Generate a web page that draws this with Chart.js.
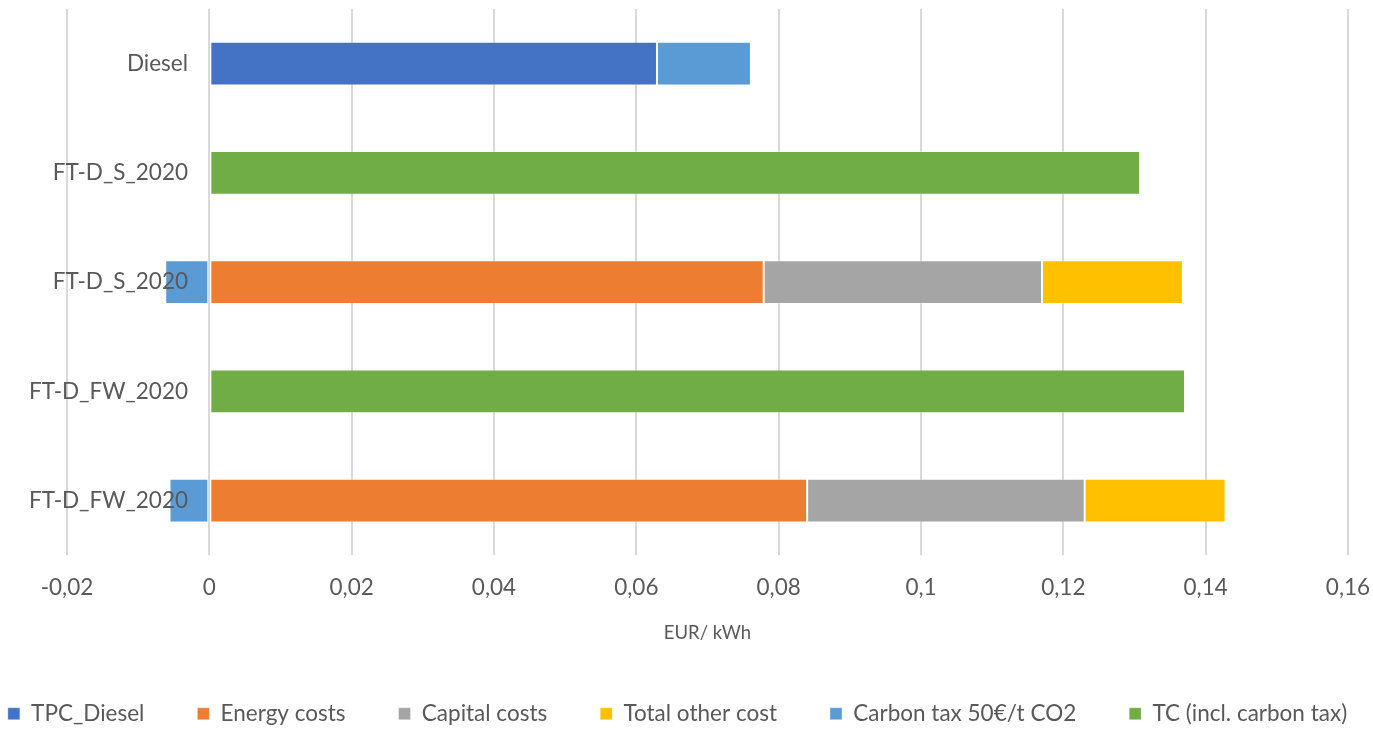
<!DOCTYPE html>
<html>
<head>
<meta charset="utf-8">
<script src="https://cdn.jsdelivr.net/npm/chart.js@4/dist/chart.umd.min.js"></script>
<style>
  html, body { margin:0; padding:0; background:#fff; overflow:hidden; }
  #wrap { width:1373px; height:729px; position:relative; }
</style>
</head>
<body>
<div id="wrap"><canvas id="chart"></canvas></div>
<script>

// categories (top to bottom)
const categories   = ['Diesel', 'FT-D_S_2020', 'FT-D_S_2020', 'FT-D_FW_2020', 'FT-D_FW_2020']

// series, EUR/kWh
const tpcDiesel    = [0.0629, null,   null,    null,   null]
const energyCosts  = [null,   null,   0.0779,  null,   0.0840]
const capitalCosts = [null,   null,   0.0391,  null,   0.0390]
const otherCosts   = [null,   null,   0.0198,  null,   0.0198]
const carbonTax    = [0.0132, null,  -0.0062,  null,  -0.0056]
const tcInclTax    = [null,   0.1308, null,    0.1371, null]

const xMin  = -0.02
const xMax  = 0.16
const xStep = 0.02

const textColor = '#595959'
const font = 'Lato, Carlito, Calibri, sans-serif'


function ds(label, data, color){
      return {
            label: label,
            data: data,
            backgroundColor: color,
            borderColor: 'rgba(255,255,255,0.35)',
            borderWidth: 1,
            borderSkipped: false,
            barPercentage: 0.4,
            categoryPercentage: 1,
      }
}

const setup = {
      type: 'bar',
      data: {
            labels: categories,
            datasets: [
                  ds('TPC_Diesel',            tpcDiesel,    '#4472C4'),
                  ds('Energy costs',          energyCosts,  '#ED7D31'),
                  ds('Capital costs',         capitalCosts, '#A5A5A5'),
                  ds('Total other cost',      otherCosts,   '#FFC000'),
                  ds('Carbon tax 50€/t CO2',  carbonTax,    '#5B9BD5'),
                  ds('TC (incl. carbon tax)', tcInclTax,    '#70AD47'),
            ]
      },
      options: {
            indexAxis: 'y',
            responsive: true,
            maintainAspectRatio: false,
            animation: false,
            // negative sides give the legend the full width, the plot margins come from afterFit
            layout: { padding: { left: -49, right: -31, top: 9, bottom: -6 } },
            scales: {
                  x: {
                        stacked: true,
                        min: xMin,
                        max: xMax,
                        afterFit: (s) => { s.paddingLeft = 67; s.paddingRight = 25 },
                        ticks: {
                              stepSize: xStep,
                              padding: 18.5,
                              maxRotation: 0,
                              color: textColor,
                              font: { family: font, size: 22.5 },
                              callback: (v) => String(Math.round(v * 100) / 100).replace('.', ','),
                        },
                        grid: { color: '#d9d9d9', lineWidth: 2, drawTicks: false },
                        border: { display: false },
                        title: {
                              display: true,
                              text: 'EUR/ kWh',
                              color: textColor,
                              font: { family: font, size: 18.5 },
                              padding: { top: 3, bottom: 5 },
                        },
                  },
                  y: {
                        stacked: true,
                        position: { x: -0.003 }, // category axis crosses near 0, like the original
                        afterFit: (s) => { s.paddingTop = 0; s.paddingBottom = 0; s.paddingLeft = 0; s.paddingRight = 0 },
                        grid: { display: false, drawTicks: false },
                        border: { display: false },
                        ticks: {
                              z: 1,
                              color: textColor,
                              font: { family: font, size: 22.5 },
                        },
                  },
            },
            plugins: {
                  legend: {
                        position: 'bottom',
                        labels: {
                              boxWidth: 12,
                              boxHeight: 12,
                              padding: 53,
                              color: textColor,
                              font: { family: font, size: 22.5 },
                        },
                  },
                  tooltip: { enabled: false },
            },
      },
}

new Chart(document.getElementById('chart'), setup)

</script>
</body>
</html>
